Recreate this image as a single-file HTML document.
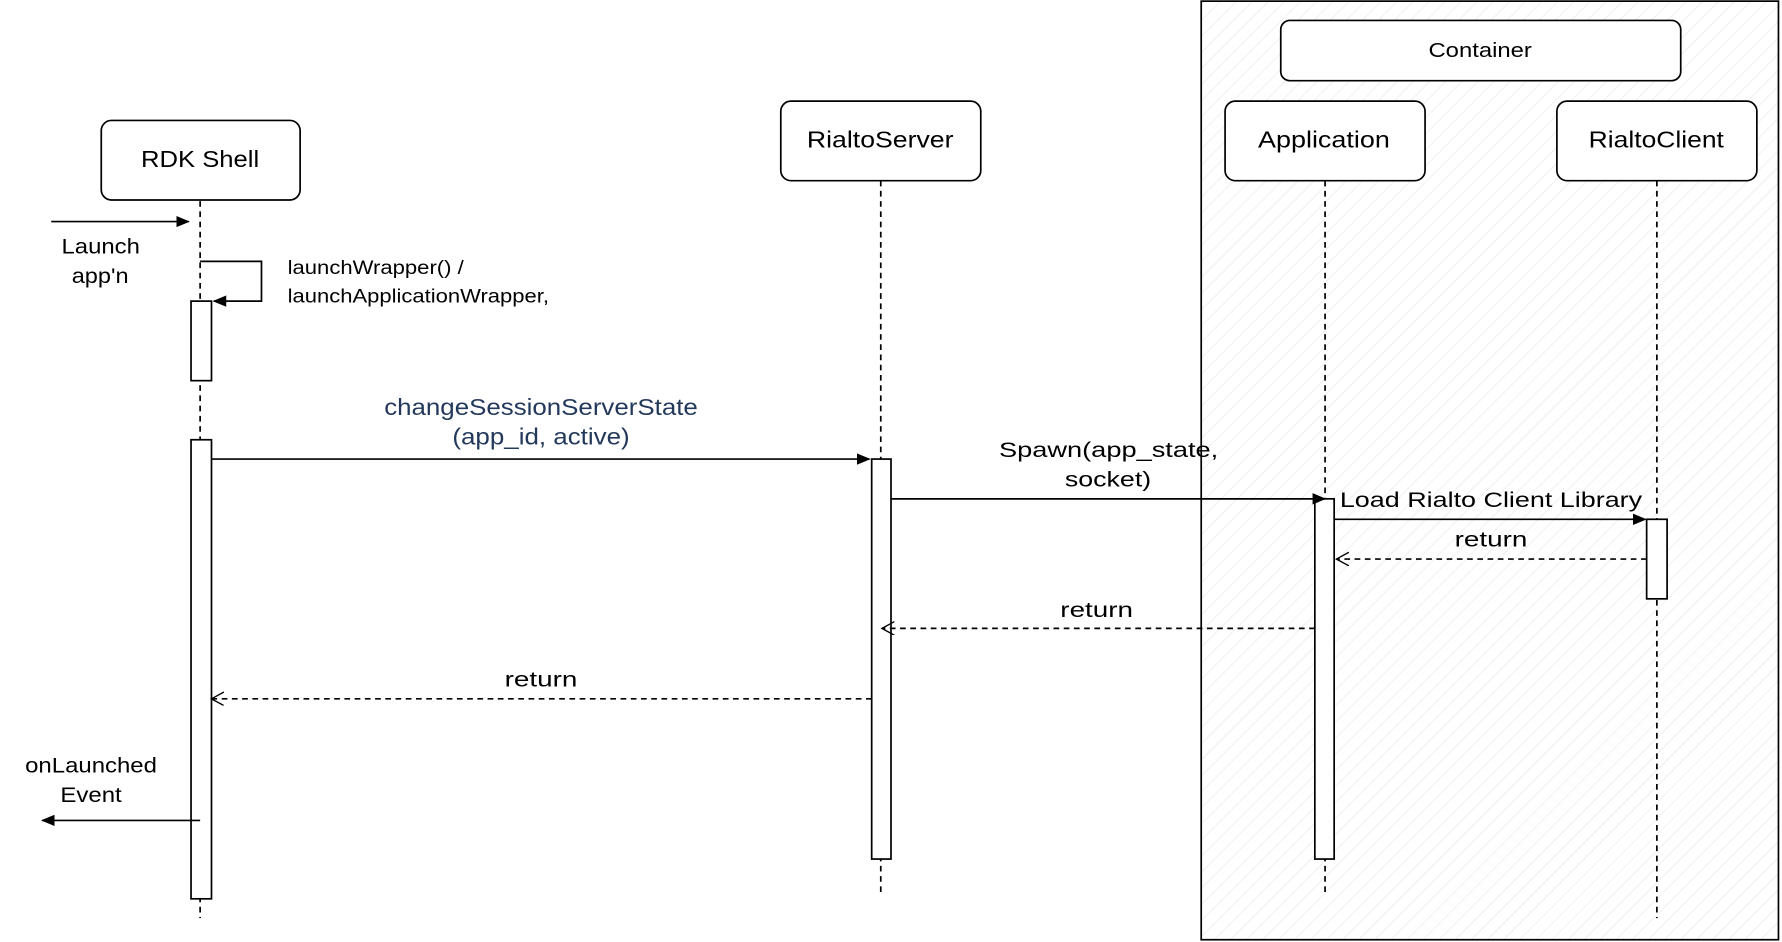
<!DOCTYPE html>
<html><head><style>html,body{margin:0;padding:0;background:#fff}svg{display:block}</style></head>
<body>
<svg width="1782" height="942" viewBox="0 0 1568 829" xmlns="http://www.w3.org/2000/svg" font-family="'Liberation Sans', sans-serif">
<defs>
<pattern id="h" width="10" height="10" patternUnits="userSpaceOnUse" patternTransform="rotate(45)">
<line x1="0" y1="0" x2="0" y2="10" stroke="#e4e4e4" stroke-width="1"/>
</pattern>
<marker id="fa" markerWidth="12" markerHeight="10" refX="11" refY="5" orient="auto" markerUnits="userSpaceOnUse"><path d="M0,0 L12,5 L0,10 Z" fill="#000"/></marker>
<marker id="oa" markerWidth="13" markerHeight="13" refX="11" refY="6" orient="auto" markerUnits="userSpaceOnUse"><path d="M0,0 L11,6 L0,12" fill="none" stroke="#000" stroke-width="1.2"/></marker>
</defs>
<rect x="1057" y="1" width="508" height="826" fill="url(#h)" stroke="#000" stroke-width="1.5"/>
<rect x="1127" y="18" width="352" height="53" rx="8" fill="#fff" stroke="#000" stroke-width="1.5"/>
<text x="1257" y="50" font-size="18" textLength="91" lengthAdjust="spacingAndGlyphs">Container</text>
<g stroke="#000" stroke-width="1.5" stroke-dasharray="5,4">
<line x1="176" y1="177" x2="176" y2="808"/>
<line x1="775" y1="159" x2="775" y2="788"/>
<line x1="1166" y1="159" x2="1166" y2="788"/>
<line x1="1458" y1="159" x2="1458" y2="808"/>
</g>
<g fill="#fff" stroke="#000" stroke-width="1.5">
<rect x="89" y="106" width="175" height="70" rx="9"/>
<rect x="687" y="89" width="176" height="70" rx="9"/>
<rect x="1078" y="89" width="176" height="70" rx="9"/>
<rect x="1370" y="89" width="176" height="70" rx="9"/>
<rect x="168" y="265" width="18" height="70"/>
<rect x="168" y="387" width="18" height="404"/>
<rect x="767" y="404" width="17" height="352"/>
<rect x="1157" y="439" width="17" height="317"/>
<rect x="1449" y="457" width="18" height="70"/>
</g>
<g font-size="20" lengthAdjust="spacingAndGlyphs">
<text x="124" y="147" textLength="104" lengthAdjust="spacingAndGlyphs">RDK Shell</text>
<text x="710" y="130" textLength="129" lengthAdjust="spacingAndGlyphs">RialtoServer</text>
<text x="1107" y="130" textLength="116" lengthAdjust="spacingAndGlyphs">Application</text>
<text x="1398" y="130" textLength="119" lengthAdjust="spacingAndGlyphs">RialtoClient</text>
</g>
<g stroke="#000" stroke-width="1.5" fill="none">
<line x1="45" y1="195" x2="166" y2="195" marker-end="url(#fa)"/>
<polyline points="176,230 230,230 230,265 188,265" marker-end="url(#fa)"/>
<line x1="186" y1="404" x2="765" y2="404" marker-end="url(#fa)"/>
<line x1="784" y1="439" x2="1166" y2="439" marker-end="url(#fa)"/>
<line x1="1174" y1="457" x2="1448" y2="457" marker-end="url(#fa)"/>
<line x1="1449" y1="492" x2="1176" y2="492" stroke-dasharray="5,4" marker-end="url(#oa)"/>
<line x1="1157" y1="553" x2="776" y2="553" stroke-dasharray="5,4" marker-end="url(#oa)"/>
<line x1="767" y1="615" x2="186" y2="615" stroke-dasharray="5,4" marker-end="url(#oa)"/>
<line x1="176" y1="722" x2="37" y2="722" marker-end="url(#fa)"/>
</g>
<g font-size="19">
<text x="54" y="223" textLength="69" lengthAdjust="spacingAndGlyphs">Launch</text><text x="63" y="249" textLength="50" lengthAdjust="spacingAndGlyphs">app'n</text>
<text x="22" y="680" textLength="116" lengthAdjust="spacingAndGlyphs">onLaunched</text><text x="53" y="706" textLength="54" lengthAdjust="spacingAndGlyphs">Event</text>
<text x="879" y="402" textLength="193" lengthAdjust="spacingAndGlyphs">Spawn(app_state,</text><text x="937" y="428" textLength="76" lengthAdjust="spacingAndGlyphs">socket)</text>
<text x="1179" y="446" textLength="266" lengthAdjust="spacingAndGlyphs">Load Rialto Client Library</text>
<text x="1280" y="481" textLength="64" lengthAdjust="spacingAndGlyphs">return</text>
<text x="933" y="543" textLength="64" lengthAdjust="spacingAndGlyphs">return</text>
<text x="444" y="604" textLength="64" lengthAdjust="spacingAndGlyphs">return</text>
<g fill="#23395b" font-size="20"><text x="338" y="365" textLength="276" lengthAdjust="spacingAndGlyphs">changeSessionServerState</text><text x="398" y="391" textLength="156" lengthAdjust="spacingAndGlyphs">(app_id, active)</text></g>
</g>
<g font-size="17"><text x="253" y="241" textLength="155" lengthAdjust="spacingAndGlyphs">launchWrapper() /</text><text x="253" y="266" textLength="230" lengthAdjust="spacingAndGlyphs">launchApplicationWrapper,</text></g>
</svg>
</body></html>
